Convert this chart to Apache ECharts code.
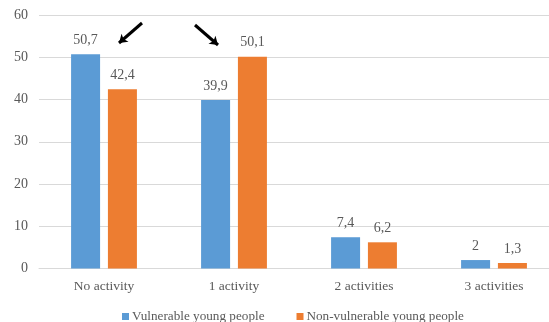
<!DOCTYPE html>
<html>
<head>
<meta charset="utf-8">
<script src="https://cdn.jsdelivr.net/npm/echarts@6/dist/echarts.min.js"></script>
<style>
  html, body { margin: 0; padding: 0; background: #fff; overflow: hidden; }
  #chart { width: 549px; height: 322px; }
</style>
</head>
<body>
<div id="chart"></div>
<script>
// Number of activities taken up, share of young people (%)
const categories = ['No activity', '1 activity', '2 activities', '3 activities'];
const vulnerable = [50.7, 39.9, 7.4, 2];
const nonVulnerable = [42.4, 50.1, 6.2, 1.3];
const yTicks = [0, 10, 20, 30, 40, 50, 60];

const FONT = '"Liberation Serif", "Times New Roman", serif';
const TEXT = '#595959';

const fmt = v => String(v).replace('.', ',');

const chart = echarts.init(document.getElementById('chart'), null, { renderer: 'canvas' });

const labelStyle = {
  show: true,
  position: 'top',
  distance: 7,
  color: TEXT,
  fontFamily: FONT,
  fontSize: 14,
  formatter: p => fmt(p.value)
};

chart.setOption({
  animation: false,
  backgroundColor: '#fff',
  // the plot area runs slightly past the right edge of the canvas
  grid: {
    left: 39, width: 520, top: 15, bottom: 53.5,
    containLabel: false,
    outerBoundsMode: 'none'
  },
  legend: {
    bottom: -1,
    left: 122,
    padding: 0,
    itemWidth: 7,
    itemHeight: 7,
    itemGap: 32,
    icon: 'rect',
    textStyle: { color: TEXT, fontFamily: FONT, fontSize: 13.2, padding: [0, 0, 0, -2] },
    data: ['Vulnerable young people', 'Non-vulnerable young people']
  },
  xAxis: {
    type: 'category',
    data: categories,
    axisLine: { lineStyle: { color: '#D9D9D9', width: 1 } },
    axisTick: { show: false },
    axisLabel: { color: TEXT, fontFamily: FONT, fontSize: 13.5, margin: 11 }
  },
  yAxis: {
    type: 'value',
    min: yTicks[0],
    max: yTicks[yTicks.length - 1],
    interval: yTicks[1] - yTicks[0],
    axisLine: { show: false },
    axisTick: { show: false },
    splitLine: { lineStyle: { color: '#D9D9D9', width: 1 } },
    axisLabel: { color: TEXT, fontFamily: FONT, fontSize: 14, margin: 11 }
  },
  series: [
    {
      name: 'Vulnerable young people',
      type: 'bar',
      data: vulnerable,
      barWidth: 29,
      barGap: '27%',
      itemStyle: { color: '#5B9BD5' },
      label: labelStyle,
      markLine: {
        silent: true,
        symbol: ['none', 'arrow'],
        symbolSize: 8,
        label: { show: false },
        lineStyle: { color: '#000', width: 3, type: 'solid' },
        data: [
          [{ x: 142, y: 23 }, { x: 119, y: 43 }],
          [{ x: 195, y: 25 }, { x: 218, y: 45 }]
        ]
      }
    },
    {
      name: 'Non-vulnerable young people',
      type: 'bar',
      data: nonVulnerable,
      barWidth: 29,
      itemStyle: { color: '#ED7D31' },
      label: labelStyle
    }
  ]
});
</script>
</body>
</html>
